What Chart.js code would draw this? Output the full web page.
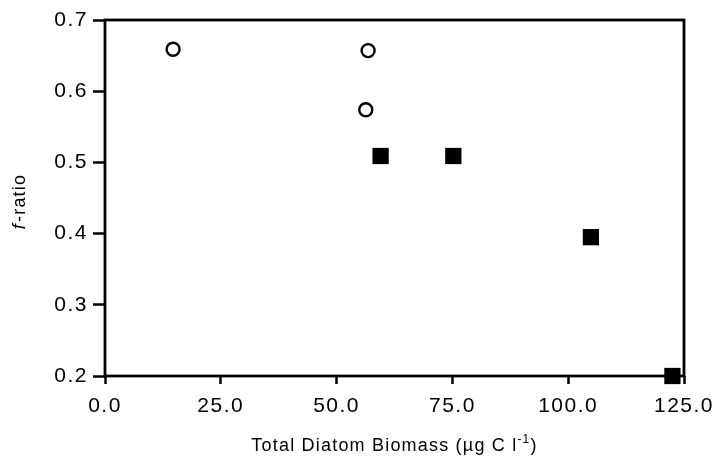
<!DOCTYPE html>
<html>
<head>
<meta charset="utf-8">
<script src="https://cdn.jsdelivr.net/npm/chart.js@4/dist/chart.umd.min.js"></script>
<style>
  html, body { margin: 0; padding: 0; background: #fff; }
  #wrap { width: 713px; height: 460px; position: relative; }
</style>
</head>
<body>
<div id="wrap"><canvas id="chart"></canvas></div>
<script>
// open circles and filled squares
const circleX = [14.7, 56.8, 56.3];
const circleY = [0.659, 0.657, 0.574];
const squareX = [59.5, 75.2, 104.9, 122.5];
const squareY = [0.509, 0.509, 0.395, 0.200];
const xTicks = [0, 25, 50, 75, 100, 125];
const yTicks = [0.2, 0.3, 0.4, 0.5, 0.6, 0.7];
const xTitle = 'Total Diatom Biomass (\u00b5g C l';
const yTitle = '-ratio';

const FONT = '"Liberation Sans", Arial, Helvetica, sans-serif';
const SPACING = '1.5px';

const toPoints = (xs, ys) => xs.map((x, i) => ({ x: x, y: ys[i] }));

// the scanned lettering is wide, so space the glyphs out a bit
const spacingPlugin = {
  id: 'spacing',
  beforeInit(chart) { chart.ctx.letterSpacing = SPACING; },
  beforeUpdate(chart) { chart.ctx.letterSpacing = SPACING; },
  beforeDraw(chart) { chart.ctx.letterSpacing = SPACING; }
};

// frame box + axis titles with italic f and superscript
const framePlugin = {
  id: 'frame',
  beforeDatasetsDraw(chart) {
    const { ctx, chartArea: a } = chart;
    ctx.save();
    ctx.strokeStyle = '#000';
    ctx.lineWidth = 2.8;
    ctx.strokeRect(a.left, a.top, a.right - a.left, a.bottom - a.top);
    ctx.restore();
  },
  afterDraw(chart) {
    const { ctx, chartArea: a } = chart;
    ctx.save();
    ctx.fillStyle = '#000';
    ctx.textBaseline = 'alphabetic';
    ctx.letterSpacing = '1.2px';

    // x title
    const mainFont = '18px ' + FONT;
    const supFont = '12px ' + FONT;
    ctx.font = mainFont;
    const w1 = ctx.measureText(xTitle).width;
    ctx.font = supFont;
    const wSup = ctx.measureText('-1').width;
    ctx.font = mainFont;
    const wEnd = ctx.measureText(')').width;
    const total = w1 + wSup + wEnd;
    const x0 = (a.left + a.right) / 2 - total / 2;
    const yb = 451;
    ctx.textAlign = 'left';
    ctx.fillText(xTitle, x0, yb);
    ctx.font = supFont;
    ctx.fillText('-1', x0 + w1, yb - 8);
    ctx.font = mainFont;
    ctx.fillText(')', x0 + w1 + wSup, yb);

    // y title, rotated
    ctx.translate(25, (a.top + a.bottom) / 2 + 4);
    ctx.rotate(-Math.PI / 2);
    ctx.font = 'italic 18px ' + FONT;
    const wf = ctx.measureText('f').width;
    ctx.font = mainFont;
    const wr = ctx.measureText(yTitle).width;
    const start = -(wf + wr) / 2;
    ctx.font = 'italic 18px ' + FONT;
    ctx.fillText('f', start, 0);
    ctx.font = mainFont;
    ctx.fillText(yTitle, start + wf + 1, 0);
    ctx.restore();
  }
};

new Chart(document.getElementById('chart'), {
  type: 'scatter',
  data: {
    datasets: [
      {
        label: 'circles',
        data: toPoints(circleX, circleY),
        pointStyle: 'circle',
        pointRadius: 6.5,
        pointBorderWidth: 2.4,
        borderColor: '#000',
        backgroundColor: '#fff'
      },
      {
        label: 'squares',
        data: toPoints(squareX, squareY),
        pointStyle: 'rect',
        pointRadius: 11.5,
        pointBorderWidth: 0,
        borderColor: '#000',
        backgroundColor: '#000'
      }
    ]
  },
  options: {
    responsive: true,
    maintainAspectRatio: false,
    animation: false,
    clip: false,
    layout: { padding: { left: 0, top: 20, right: 29, bottom: 0 } },
    plugins: {
      legend: { display: false },
      tooltip: { enabled: false }
    },
    scales: {
      x: {
        type: 'linear',
        min: 0,
        max: 125,
        afterBuildTicks: axis => { axis.ticks = xTicks.map(v => ({ value: v })); },
        afterFit: axis => {
          axis.height = 84;
          axis.paddingLeft = 0;
          axis.paddingRight = 0;
        },
        border: { display: false },
        grid: {
          drawOnChartArea: false,
          drawTicks: true,
          tickLength: 8,
          tickWidth: 2.5,
          tickColor: '#000'
        },
        ticks: {
          color: '#000',
          padding: 10,
          maxRotation: 0,
          font: { family: FONT, size: 21 },
          callback: v => v.toFixed(1)
        }
      },
      y: {
        type: 'linear',
        min: 0.2,
        max: 0.7,
        afterBuildTicks: axis => { axis.ticks = yTicks.map(v => ({ value: v })); },
        afterFit: axis => {
          axis.width = 105;
          axis.paddingTop = 0;
          axis.paddingBottom = 0;
        },
        border: { display: false },
        grid: {
          drawOnChartArea: false,
          drawTicks: true,
          tickLength: 12,
          tickWidth: 2.5,
          tickColor: '#000'
        },
        ticks: {
          color: '#000',
          padding: 5,
          font: { family: FONT, size: 21 },
          callback: v => v.toFixed(1)
        }
      }
    }
  },
  plugins: [spacingPlugin, framePlugin]
});
</script>
</body>
</html>
